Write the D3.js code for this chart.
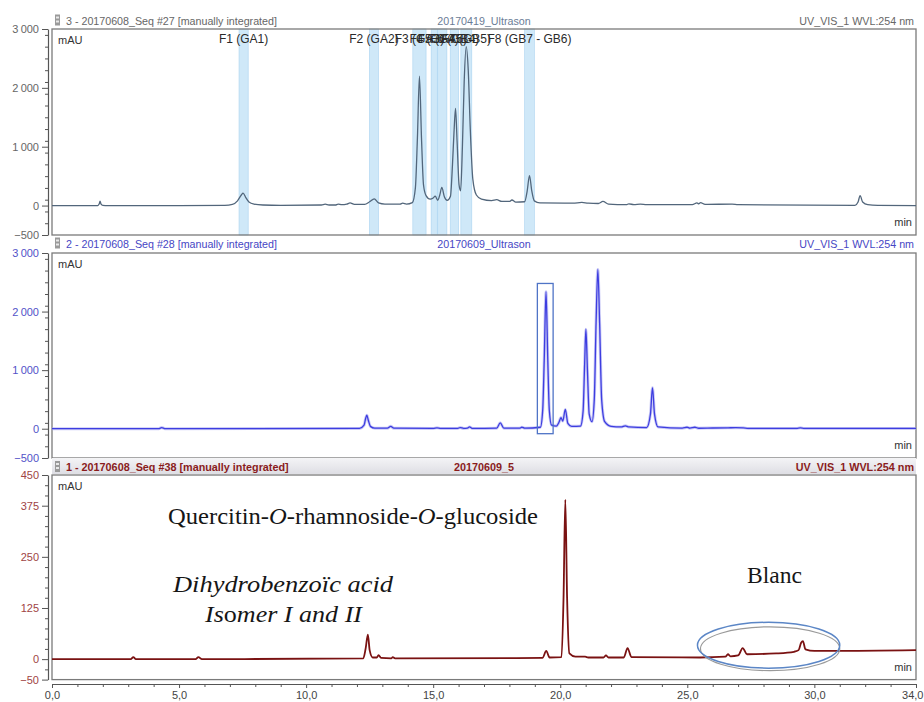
<!DOCTYPE html>
<html>
<head>
<meta charset="utf-8">
<script src="https://cdn.jsdelivr.net/npm/d3@7"></script>
<style>
  html, body { margin: 0; padding: 0; background: #fff; }
  svg { display: block; font-family: "Liberation Sans", Arial, sans-serif; }
</style>
</head>
<body>
<svg id="chart" width="924" height="702"></svg>
<script>
// Retention time axis (min)
const xMajorTicks = [0, 5, 10, 15, 20, 25, 30, 34];
const xMinorTicks = d3.range(0, 35, 1);

// Panel 3 – 20170419_Ultrason, [time (min), mAU]
const trace3 = [
  [0, 0], [1.8, 0], [1.86, 30], [1.89, 75], [1.93, 25], [2.0, 4], [2.2, 0], [5, 0], [6.8, 5],
  [7.1, 20], [7.3, 80], [7.45, 180], [7.52, 210], [7.62, 140], [7.75, 60], [7.95, 25], [8.3, 10],
  [9.0, 5], [10.6, 10], [10.75, 25], [10.9, 10], [11.15, 10], [11.26, 25], [11.4, 15], [11.6, 25],
  [11.73, 45], [11.9, 20], [12.3, 20], [12.5, 65], [12.68, 115], [12.85, 45], [13.1, 25],
  [13.7, 25], [13.8, 40], [13.95, 25], [14.18, 50], [14.3, 300], [14.38, 1150], [14.46, 2200],
  [14.54, 1150], [14.62, 350], [14.72, 170], [14.88, 110], [15.0, 130], [15.08, 160], [15.18, 90],
  [15.26, 180], [15.34, 310], [15.44, 150], [15.55, 90], [15.68, 160], [15.76, 700], [15.82, 1250],
  [15.88, 1650], [15.94, 1100], [16.02, 350], [16.08, 250], [16.15, 1000], [16.22, 2100],
  [16.3, 2700], [16.38, 2300], [16.46, 1300], [16.56, 450], [16.7, 180], [16.9, 110], [17.3, 85],
  [17.5, 100], [17.7, 70], [18.0, 70], [18.1, 95], [18.25, 60], [18.6, 65], [18.7, 250],
  [18.79, 510], [18.88, 250], [18.98, 80], [19.2, 45], [20.5, 40], [20.85, 55], [21.1, 40],
  [21.5, 35], [21.68, 70], [21.9, 25], [22.6, 15], [22.7, 30], [22.9, 15], [23.15, 25], [23.4, 15],
  [25.2, 15], [25.38, 45], [25.45, 30], [25.52, 50], [25.7, 20], [26.76, 25], [27.0, 15],
  [31.6, 5], [31.72, 60], [31.8, 170], [31.9, 60], [32.1, 15], [32.5, 5], [34, 0]
];

// Integration windows and peak names of panel 3
const windows3 = [
  [7.36, 7.72], [12.49, 12.85], [14.2, 14.72], [14.92, 15.16],
  [15.18, 15.54], [15.67, 16.0], [16.09, 16.52], [18.6, 18.98]
];
const peakNames3 = [
  "F1 (GA1)", "F2 (GA2)", "F3 (GA3)", "F4 (GA4)",
  "F5 (GA5)", "F6 (GB4)", "F7 (GB5)", "F8 (GB7 - GB6)"
];

// Panel 2 – 20170609_Ultrason
const trace2 = [
  [0, 0], [4.2, 0], [4.32, 20], [4.45, 0], [12.1, 5], [12.28, 60], [12.34, 170], [12.39, 230],
  [12.45, 140], [12.53, 40], [12.7, 10], [13.2, 10], [13.33, 40], [13.45, 10], [15.0, 5],
  [15.15, 15], [15.3, 5], [15.95, 5], [16.06, 20], [16.2, 5], [16.35, 10], [16.43, 30], [16.55, 5],
  [17.5, 10], [17.64, 100], [17.78, 10], [18.4, 10], [18.49, 25], [18.6, 10], [19.22, 25],
  [19.31, 316], [19.37, 1170], [19.44, 2340], [19.51, 1170], [19.57, 316], [19.66, 60],
  [19.85, 45], [19.95, 110], [20.03, 190], [20.1, 130], [20.2, 330], [20.3, 90], [20.45, 40],
  [20.8, 45], [20.9, 300], [20.96, 1100], [21.01, 1700], [21.07, 1000], [21.14, 250],
  [21.25, 120], [21.34, 500], [21.41, 1800], [21.48, 2720], [21.55, 1800], [21.63, 500],
  [21.75, 120], [22.0, 40], [22.4, 30], [22.56, 50], [22.7, 30], [23.4, 20], [23.55, 250],
  [23.63, 700], [23.71, 250], [23.85, 30], [24.8, 10], [24.99, 25], [25.1, 10], [25.3, 25],
  [25.45, 8], [26.0, 12], [26.6, 15], [26.9, 18], [27.2, 15], [27.4, 5], [29.3, 5], [29.45, 15],
  [29.6, 5], [34, 5]
];
// Highlighted peak window of panel 2 [t0, t1, mAU0, mAU1]
const box2 = [19.1, 19.72, -85, 2480];

// Panel 1 – 20170609_5
const trace1 = [
  [0, 0], [3.1, 0], [3.2, 5], [3.3, 0], [5.65, 0], [5.76, 5], [5.9, 0], [12.25, 2], [12.34, 25],
  [12.43, 60], [12.5, 22], [12.62, 4], [12.78, 4], [12.85, 10], [12.95, 3], [13.35, 2],
  [13.41, 5], [13.5, 2], [19.3, 3], [19.45, 20], [19.58, 4], [20.05, 5], [20.13, 150],
  [20.2, 390], [20.27, 150], [20.36, 14], [20.6, 6], [20.98, 6], [21.1, 4], [21.7, 4], [21.8, 9],
  [21.9, 4], [22.5, 4], [22.65, 27], [22.8, 5], [25.5, 4], [26.5, 6], [26.6, 12], [26.7, 7],
  [27.0, 9], [27.18, 27], [27.35, 12], [28.5, 14], [29.2, 18], [29.38, 22], [29.48, 40],
  [29.55, 44], [29.65, 24], [30.0, 20], [30.75, 20], [34, 22]
];
// Circled region "Blanc" of panel 1: centre (min, mAU), radii (min, mAU)
const blancRegion = [28.2, 34, 2.8, 56];

const yTicks3 = [3000, 2000, 1000, 0, -500];
const yTicks2 = [3000, 2000, 1000, 0, -500];
const yTicks1 = [450, 375, 250, 125, 0, -50];

const svg = d3.select("#chart");
const X0 = 52, X1 = 916;
const x = d3.scaleLinear().domain([0, 34]).range([X0, X1]);

const panels = [
  {
    id: 3, top: 29, bottom: 235, domain: [-500, 3000], trace: trace3,
    ticks: yTicks3, minorStep: 200, line: "#52667b", lineW: 1.3,
    tickColor: "#666", header: ["3 - 20170608_Seq #27 [manually integrated]", "20170419_Ultrason", "UV_VIS_1 WVL:254 nm"],
    headColor: ["#666", "#6a7c96", "#666"], headBold: false, headY: 24.5
  },
  {
    id: 2, top: 253, bottom: 458, domain: [-500, 3000], trace: trace2,
    ticks: yTicks2, minorStep: 200, line: "#3d3de0", lineW: 1.3,
    tickColor: "#5252c8", header: ["2 - 20170608_Seq #28 [manually integrated]", "20170609_Ultrason", "UV_VIS_1 WVL:254 nm"],
    headColor: ["#4646c4", "#4646c4", "#4646c4"], headBold: false, headY: 247.5
  },
  {
    id: 1, top: 475, bottom: 679.6, domain: [-50, 450], trace: trace1,
    ticks: yTicks1, minorStep: 25, line: "#7a1212", lineW: 1.8,
    tickColor: "#a04444", header: ["1 - 20170608_Seq #38 [manually integrated]", "20170609_5", "UV_VIS_1 WVL:254 nm"],
    headColor: ["#8a1c1c", "#8a1c1c", "#8a1c1c"], headBold: true, headY: 471
  }
];

// Header bar gradient for the active chromatogram
const defs = svg.append("defs");
const grad = defs.append("linearGradient").attr("id", "hdr").attr("x1", 0).attr("y1", 0).attr("x2", 0).attr("y2", 1);
grad.append("stop").attr("offset", "0%").attr("stop-color", "#f4f4f6");
grad.append("stop").attr("offset", "100%").attr("stop-color", "#dedee4");

panels.forEach(p => {
  const y = d3.scaleLinear().domain(p.domain).range([p.bottom, p.top]);
  p.y = y;
  const g = svg.append("g");

  // header bar
  if (p.headBold) {
    g.append("rect").attr("x", X0).attr("y", p.top - 17).attr("width", X1 - X0).attr("height", 16)
      .attr("fill", "url(#hdr)");
  }
  // small chromatogram icon
  const ic = g.append("g").attr("transform", `translate(55,${p.headY - 10})`);
  ic.append("rect").attr("width", 5).attr("height", 11).attr("fill", "#9a9a9a");
  ic.append("rect").attr("x", 1).attr("y", 2).attr("width", 3).attr("height", 2).attr("fill", "#e8e8e8");
  ic.append("rect").attr("x", 1).attr("y", 6).attr("width", 3).attr("height", 2).attr("fill", "#e8e8e8");

  const hw = p.headBold ? "bold" : "normal";
  const hs = p.headBold ? 10.8 : 10.7;
  g.append("text").attr("x", 66).attr("y", p.headY).attr("font-size", hs).attr("font-weight", hw)
    .attr("fill", p.headColor[0]).text(p.header[0]);
  g.append("text").attr("x", (X0 + X1) / 2).attr("y", p.headY).attr("text-anchor", "middle")
    .attr("font-size", hs).attr("font-weight", hw).attr("fill", p.headColor[1]).text(p.header[1]);
  g.append("text").attr("x", X1 - 2).attr("y", p.headY).attr("text-anchor", "end")
    .attr("font-size", hs).attr("font-weight", hw).attr("fill", p.headColor[2]).text(p.header[2]);

  // integration windows (panel 3)
  if (p.id === 3) {
    g.selectAll("rect.win").data(windows3).join("rect").attr("class", "win")
      .attr("x", d => x(d[0])).attr("y", p.top).attr("width", d => x(d[1]) - x(d[0]))
      .attr("height", p.bottom - p.top).attr("fill", "#bfe0f6").attr("fill-opacity", 0.75)
      .attr("stroke", "#a9d3f0").attr("stroke-width", 0.6);
  }

  // frame
  g.append("rect").attr("x", X0).attr("y", p.top).attr("width", X1 - X0).attr("height", p.bottom - p.top)
    .attr("fill", "none").attr("stroke", "#7a7a7a").attr("stroke-width", 1.3);

  // y axis
  const minor = d3.range(p.domain[0], p.domain[1] + 1e-9, p.minorStep).filter(v => !p.ticks.includes(v));
  const axMinor = g.append("g").attr("transform", "translate(48,0)")
    .call(d3.axisLeft(y).tickValues(minor).tickSize(3).tickFormat(""));
  axMinor.select(".domain").remove();
  axMinor.selectAll("line").attr("stroke", "#555");
  const ax = g.append("g").attr("transform", "translate(48,0)")
    .call(d3.axisLeft(y).tickValues(p.ticks).tickSize(6).tickSizeOuter(0).tickPadding(3)
      .tickFormat(v => d3.format(",")(v).replace(/,/g, "\u2009")));
  ax.select(".domain").attr("stroke", "#555").attr("stroke-width", 1.2);
  ax.selectAll("line").attr("stroke", "#555");
  ax.selectAll("text").attr("fill", p.tickColor).attr("font-size", 11)
    .attr("font-family", "'Liberation Sans', Arial, sans-serif");

  g.append("text").attr("x", 58).attr("y", p.top + 15).attr("font-size", 11).attr("fill", "#333").text("mAU");
  g.append("text").attr("x", X1 - 4).attr("y", p.bottom - 9).attr("text-anchor", "end")
    .attr("font-size", 11).attr("fill", "#333").text("min");

  // trace
  const line = d3.line().x(d => x(d[0])).y(d => y(d[1])).curve(d3.curveMonotoneX);
  if (p.id === 2) {
    g.append("path").datum(p.trace).attr("d", line).attr("fill", "none")
      .attr("stroke", "#a6a6f0").attr("stroke-width", 3).attr("stroke-opacity", 0.6);
  }
  g.append("path").datum(p.trace).attr("d", line).attr("fill", "none")
    .attr("stroke", p.line).attr("stroke-width", p.lineW).attr("stroke-linejoin", "round");

  // peak labels (panel 3)
  if (p.id === 3) {
    g.selectAll("text.pk").data(windows3).join("text").attr("class", "pk")
      .attr("x", d => x((d[0] + d[1]) / 2)).attr("y", p.top + 14).attr("text-anchor", "middle")
      .attr("font-size", 12).attr("fill", "#2a2a2a").text((d, i) => peakNames3[i]);
  }
  // highlighted peak (panel 2)
  if (p.id === 2) {
    g.append("rect").attr("x", x(box2[0])).attr("y", y(box2[3]))
      .attr("width", x(box2[1]) - x(box2[0])).attr("height", y(box2[2]) - y(box2[3]))
      .attr("fill", "none").attr("stroke", "#4f74c6").attr("stroke-width", 1.3);
  }
});

// time axis
const yAx = 684;
const xMinorAx = svg.append("g").attr("transform", `translate(0,${yAx})`)
  .call(d3.axisBottom(x).tickValues(xMinorTicks.filter(v => !xMajorTicks.includes(v))).tickSize(3).tickFormat(""));
xMinorAx.select(".domain").remove();
xMinorAx.selectAll("line").attr("stroke", "#555");
const xAx = svg.append("g").attr("transform", `translate(0,${yAx})`)
  .call(d3.axisBottom(x).tickValues(xMajorTicks).tickSize(4).tickSizeOuter(0).tickPadding(3)
    .tickFormat(v => d3.format(".1f")(v).replace(".", ",")));
xAx.select(".domain").attr("stroke", "#555").attr("stroke-width", 1.2);
xAx.selectAll("line").attr("stroke", "#555");
xAx.selectAll("text").attr("fill", "#444").attr("font-size", 11)
  .attr("font-family", "'Liberation Sans', Arial, sans-serif");
// last label sits against the right edge
xAx.selectAll(".tick").filter(d => d === 34).select("text").attr("text-anchor", "end").attr("dx", 7);

// annotations on panel 1
const p1 = panels[2];
const serif = "'Liberation Serif', 'DejaVu Serif', serif";
const q = svg.append("text").attr("x", 168).attr("y", 524).attr("font-family", serif)
  .attr("font-size", 24).attr("fill", "#161616")
  .attr("textLength", 370).attr("lengthAdjust", "spacingAndGlyphs");
q.append("tspan").text("Quercitin-");
q.append("tspan").attr("font-style", "italic").text("O");
q.append("tspan").text("-rhamnoside-");
q.append("tspan").attr("font-style", "italic").text("O");
q.append("tspan").text("-glucoside");

svg.append("text").attr("x", 173).attr("y", 592).attr("font-family", serif)
  .attr("font-style", "italic").attr("font-size", 24).attr("fill", "#161616")
  .attr("textLength", 220).attr("lengthAdjust", "spacingAndGlyphs").text("Dihydrobenzoïc acid");
const iso = svg.append("text").attr("x", 205).attr("y", 622).attr("font-family", serif)
  .attr("font-style", "italic").attr("font-size", 24).attr("fill", "#161616")
  .attr("textLength", 157).attr("lengthAdjust", "spacingAndGlyphs");
iso.append("tspan").text("Is");
iso.append("tspan").attr("font-style", "normal").text("o");
iso.append("tspan").text("mer I and II");

svg.append("text").attr("x", 747).attr("y", 583).attr("font-family", serif)
  .attr("font-size", 24).attr("fill", "#161616")
  .attr("textLength", 55).attr("lengthAdjust", "spacingAndGlyphs").text("Blanc");

const ex = p1.y, cx = x(blancRegion[0]), cy = ex(blancRegion[1]);
const rx = x(blancRegion[2]) - x(0), ry = ex(0) - ex(blancRegion[3]);
svg.append("ellipse").attr("cx", cx + 1.5).attr("cy", cy + 3.5).attr("rx", rx - 1.5).attr("ry", ry - 1)
  .attr("fill", "none").attr("stroke", "#9a9a9a").attr("stroke-width", 1.2);
svg.append("ellipse").attr("cx", cx).attr("cy", cy).attr("rx", rx).attr("ry", ry)
  .attr("fill", "none").attr("stroke", "#5b86c6").attr("stroke-width", 1.5);
</script>
</body>
</html>
